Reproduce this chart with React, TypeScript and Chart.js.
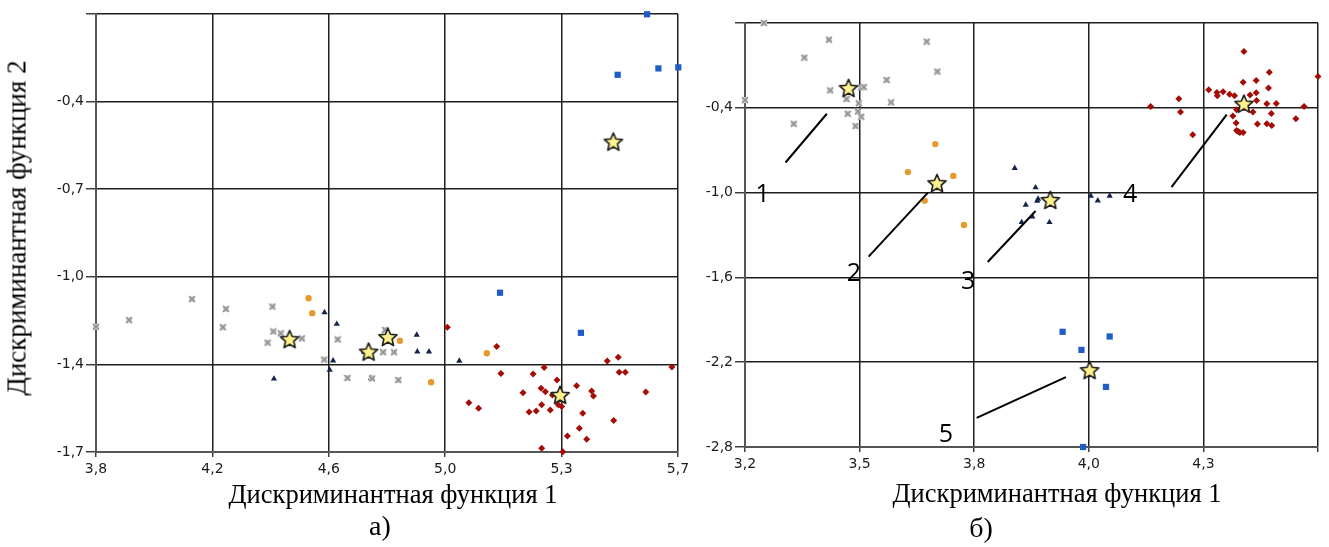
import React, { useEffect, useRef } from 'react';
import { Chart, registerables } from 'chart.js';

Chart.register(...registerables);

type P = [number, number];

// ---------- Chart а) ----------
const A_X_RANGE: P = [3.82, 5.72];
const A_Y_RANGE: P = [-1.70, -0.05];
const A_X_TICKS = ['3,8', '4,2', '4,6', '5,0', '5,3', '5,7'];
const A_Y_TICKS = ['-1,7', '-1,4', '-1,0', '-0,7', '-0,4', ''];

const A_GROUP1: P[] = [
  [3.82, -1.228], [3.928, -1.203], [4.133, -1.124], [4.244, -1.161], [4.234, -1.230],
  [4.396, -1.152], [4.399, -1.246], [4.423, -1.253], [4.380, -1.288], [4.492, -1.272],
  [4.609, -1.276], [4.565, -1.352], [4.641, -1.421], [4.721, -1.423], [4.757, -1.324],
  [4.793, -1.324], [4.807, -1.429], [4.764, -1.240],
];
const A_GROUP2: P[] = [
  [4.514, -1.121], [4.526, -1.177], [4.812, -1.281], [4.914, -1.437], [5.096, -1.328],
];
const A_GROUP3: P[] = [
  [4.566, -1.174], [4.606, -1.218], [4.594, -1.356], [4.583, -1.391], [4.401, -1.424],
  [4.867, -1.259], [4.869, -1.322], [4.907, -1.322], [5.006, -1.357], [4.718, -1.422],
  [4.695, -1.323],
];
const A_GROUP4: P[] = [
  [4.967, -1.230], [5.128, -1.303], [5.142, -1.404], [5.037, -1.514], [5.069, -1.535],
  [5.247, -1.406], [5.283, -1.382], [5.214, -1.477], [5.273, -1.460], [5.287, -1.473],
  [5.310, -1.485], [5.325, -1.429], [5.275, -1.522], [5.234, -1.549], [5.257, -1.546],
  [5.303, -1.542], [5.329, -1.522], [5.340, -1.529], [5.389, -1.450], [5.438, -1.470],
  [5.444, -1.489], [5.409, -1.554], [5.398, -1.611], [5.359, -1.640], [5.422, -1.652],
  [5.510, -1.581], [5.615, -1.474], [5.489, -1.357], [5.525, -1.343], [5.528, -1.400],
  [5.548, -1.400], [5.700, -1.380], [5.275, -1.686], [5.344, -1.699],
];
const A_GROUP5: P[] = [
  [5.619, -0.051], [5.523, -0.279], [5.656, -0.255], [5.721, -0.251], [5.139, -1.100],
  [5.403, -1.251],
];
const A_CENTROIDS: P[] = [
  [4.452, -1.275], [4.710, -1.322], [4.773, -1.267], [5.335, -1.485], [5.509, -0.531],
];

// ---------- Chart б) ----------
const B_X_RANGE: P = [3.2, 4.6];
const B_Y_RANGE: P = [-2.8, 0.2];
const B_X_TICKS = ['3,2', '3,5', '3,8', '4,0', '4,3', ''];
const B_Y_TICKS = ['-2,8', '-2,2', '-1,6', '-1,0', '-0,4', ''];

const B_GROUP1: P[] = [
  [3.246, 0.20], [3.405, 0.082], [3.345, -0.045], [3.408, -0.277], [3.448, -0.338],
  [3.451, -0.442], [3.478, -0.368], [3.476, -0.426], [3.484, -0.463], [3.470, -0.529],
  [3.484, -0.256], [3.490, -0.253], [3.546, -0.203], [3.557, -0.362], [3.644, 0.068],
  [3.670, -0.144], [3.319, -0.513], [3.200, -0.346],
];
const B_GROUP2: P[] = [
  [3.665, -0.657], [3.598, -0.855], [3.709, -0.882], [3.639, -1.057], [3.735, -1.229],
];
const B_GROUP3: P[] = [
  [3.859, -0.827], [3.910, -0.964], [3.916, -1.045], [3.914, -1.059], [3.886, -1.087],
  [3.902, -1.170], [3.876, -1.210], [3.944, -1.210], [4.045, -1.023], [4.062, -1.057],
  [4.091, -1.023],
];
const B_GROUP4: P[] = [
  [4.419, -0.001], [4.481, -0.149], [4.600, -0.178], [4.417, -0.220], [4.449, -0.206],
  [4.479, -0.260], [4.333, -0.272], [4.353, -0.291], [4.354, -0.315], [4.368, -0.286],
  [4.384, -0.305], [4.396, -0.315], [4.434, -0.310], [4.449, -0.293], [4.450, -0.348],
  [4.475, -0.371], [4.498, -0.369], [4.566, -0.390], [4.260, -0.336], [4.191, -0.390],
  [4.264, -0.430], [4.294, -0.591], [4.401, -0.414], [4.441, -0.430], [4.486, -0.440],
  [4.392, -0.458], [4.400, -0.508], [4.546, -0.478], [4.452, -0.515], [4.475, -0.513],
  [4.487, -0.525], [4.401, -0.560], [4.409, -0.575], [4.417, -0.575], [4.405, -0.568],
];
const B_GROUP5: P[] = [
  [3.976, -1.985], [4.022, -2.113], [4.091, -2.018], [4.082, -2.375], [4.026, -2.800],
];
const B_CENTROIDS: P[] = [
  [3.453, -0.260], [3.669, -0.933], [3.946, -1.052], [4.419, -0.371], [4.042, -2.256],
];

const B_NOTE_TEXT = ['1', '2', '3', '4', '5'];
const B_NOTE_AT: P[] = [
  [3.243, -1.005], [3.466, -1.565], [3.745, -1.619], [4.141, -1.005], [3.691, -2.701],
];
const B_NOTE_LINES: [P, P][] = [
  [[3.299, -0.787], [3.400, -0.442]],
  [[3.502, -1.453], [3.647, -1.000]],
  [[3.793, -1.491], [3.910, -1.130]],
  [[4.242, -0.962], [4.377, -0.449]],
  [[3.766, -2.594], [3.984, -2.306]],
];

// ---------- helpers ----------
function makeGrayMark(): HTMLCanvasElement {
  const c = document.createElement('canvas');
  c.width = 8;
  c.height = 8;
  const ctx = c.getContext('2d')!;
  ctx.fillStyle = '#d4d4d4';
  ctx.fillRect(1, 1, 6, 6);
  ctx.strokeStyle = '#8e8e8e';
  ctx.lineWidth = 1.6;
  ctx.beginPath();
  ctx.moveTo(1, 1);
  ctx.lineTo(7, 7);
  ctx.moveTo(7, 1);
  ctx.lineTo(1, 7);
  ctx.stroke();
  return c;
}

const GROUP_STYLES: any[] = [
  { pointStyle: 'gray', color: '#9b9b9b', radius: 4, borderWidth: 0 },
  { pointStyle: 'circle', color: '#E59A2B', radius: 3.2, borderWidth: 0 },
  { pointStyle: 'triangle', color: '#14244a', radius: 3.6, borderWidth: 0 },
  { pointStyle: 'rectRot', color: '#A60C06', radius: 3.5, borderWidth: 0 },
  { pointStyle: 'rect', color: '#1F5DC6', radius: 4.4, borderWidth: 0 },
];

function makeStar(size: number): HTMLCanvasElement {
  const c = document.createElement('canvas');
  c.width = size;
  c.height = size;
  const ctx = c.getContext('2d')!;
  const cx = size / 2;
  const cy = size / 2 + 0.8;
  const R = size / 2 - 1.5;
  const r = R * 0.46;
  ctx.beginPath();
  for (let i = 0; i < 10; i++) {
    const ang = -Math.PI / 2 + (i * Math.PI) / 5;
    const rad = i % 2 === 0 ? R : r;
    const x = cx + Math.cos(ang) * rad;
    const y = cy + Math.sin(ang) * rad;
    if (i === 0) ctx.moveTo(x, y);
    else ctx.lineTo(x, y);
  }
  ctx.closePath();
  ctx.fillStyle = '#FFF28C';
  ctx.fill();
  ctx.lineJoin = 'round';
  ctx.lineWidth = 1.6;
  ctx.strokeStyle = '#1a1a1a';
  ctx.stroke();
  return c;
}

function axis(range: P, labels: string[], isX: boolean, fixedSize: number, tickLen: number, pad: number) {
  const [min, max] = range;
  const step = (max - min) / (labels.length - 1);
  return {
    type: 'linear',
    min,
    max,
    afterBuildTicks: (s: any) => {
      s.ticks = labels.map((_, i) => ({ value: min + i * step }));
    },
    afterFit: (s: any) => {
      if (isX) s.height = fixedSize;
      else s.width = fixedSize;
    },
    ticks: {
      autoSkip: false,
      maxRotation: 0,
      minRotation: 0,
      padding: pad,
      color: '#1b1b1b',
      font: { family: 'DejaVu Sans', size: 14 },
      callback: (_v: any, i: number) => labels[i],
    },
    grid: {
      color: '#1e1e1e',
      lineWidth: 1.5,
      drawTicks: true,
      tickLength: tickLen,
      tickColor: '#333',
      tickWidth: 1.4,
    },
    border: { display: true, color: '#555', width: 2 },
  };
}

function buildDatasets(groups: P[][], centroids: P[], star: HTMLCanvasElement, grayMark: HTMLCanvasElement) {
  const ds: any[] = [
    {
      label: 'centroids',
      data: centroids.map(([x, y]) => ({ x, y })),
      pointStyle: star,
      radius: 10,
      hoverRadius: 10,
      clip: false,
    },
  ];
  groups.forEach((g, i) => {
    const st = GROUP_STYLES[i];
    ds.push({
      label: 'group ' + (i + 1),
      data: g.map(([x, y]) => ({ x, y })),
      pointStyle: st.pointStyle === 'gray' ? grayMark : st.pointStyle,
      pointRadius: st.radius,
      pointHoverRadius: st.radius,
      backgroundColor: st.color,
      borderColor: st.color,
      borderWidth: st.borderWidth,
      clip: false,
    });
  });
  return ds;
}

const notesPlugin = {
  id: 'notes',
  afterDatasetsDraw(chart: any) {
    const opts = chart.options.plugins.notes;
    if (!opts || !opts.enabled) return;
    const { ctx, scales } = chart;
    const xs = scales.x;
    const ys = scales.y;
    ctx.save();
    ctx.strokeStyle = '#000';
    ctx.lineWidth = 2;
    B_NOTE_LINES.forEach(([a, b]) => {
      ctx.beginPath();
      ctx.moveTo(xs.getPixelForValue(a[0]), ys.getPixelForValue(a[1]));
      ctx.lineTo(xs.getPixelForValue(b[0]), ys.getPixelForValue(b[1]));
      ctx.stroke();
    });
    ctx.fillStyle = '#000';
    ctx.font = '25px "Open Sans"';
    ctx.textAlign = 'center';
    ctx.textBaseline = 'alphabetic';
    B_NOTE_TEXT.forEach((t, i) => {
      const [x, y] = B_NOTE_AT[i];
      ctx.fillText(t, xs.getPixelForValue(x), ys.getPixelForValue(y) + 9);
    });
    ctx.restore();
  },
};

function ScatterPanel(props: {
  left: number;
  width: number;
  groups: P[][];
  centroids: P[];
  xRange: P;
  yRange: P;
  xTicks: string[];
  yTicks: string[];
  yWidth: number;
  xHeight: number;
  padTop: number;
  padRight: number;
  notes: boolean;
}) {
  const ref = useRef<HTMLCanvasElement | null>(null);
  useEffect(() => {
    if (!ref.current) return;
    const star = makeStar(22);
    const grayMark = makeGrayMark();
    const chart = new Chart(ref.current, {
      type: 'scatter',
      data: { datasets: buildDatasets(props.groups, props.centroids, star, grayMark) },
      options: {
        responsive: false,
        animation: false,
        layout: { padding: { left: 0, right: props.padRight, top: props.padTop, bottom: 0 } },
        plugins: {
          legend: { display: false },
          tooltip: { enabled: false },
          notes: { enabled: props.notes },
        } as any,
        scales: {
          x: axis(props.xRange, props.xTicks, true, props.xHeight, 5, 4) as any,
          y: axis(props.yRange, props.yTicks, false, props.yWidth, 10, 2) as any,
        },
      },
      plugins: [notesPlugin],
    });
    return () => chart.destroy();
  }, []);
  return (
    <canvas
      ref={ref}
      width={props.width}
      height={547}
      style={{ position: 'absolute', left: props.left, top: 0, width: props.width, height: 547 }}
    />
  );
}

const SERIF = '"Liberation Serif", "Times New Roman", serif';

function Label(props: { text: string; cx: number; baseline: number; size: number; rotate?: boolean }) {
  const s = props.size;
  if (props.rotate) {
    return (
      <div
        style={{
          position: 'absolute',
          left: props.baseline - 0.3375 * s,
          top: props.cx,
          transform: 'translate(-50%, -50%) rotate(-90deg)',
          fontFamily: SERIF,
          fontSize: s,
          lineHeight: s + 'px',
          whiteSpace: 'nowrap',
          color: '#000',
        }}
      >
        {props.text}
      </div>
    );
  }
  return (
    <div
      style={{
        position: 'absolute',
        left: props.cx,
        top: props.baseline - 0.3375 * s,
        transform: 'translate(-50%, -50%)',
        fontFamily: SERIF,
        fontSize: s,
        lineHeight: s + 'px',
        whiteSpace: 'nowrap',
        color: '#000',
      }}
    >
      {props.text}
    </div>
  );
}

export default function App() {
  return (
    <div
      style={{
        position: 'fixed',
        left: 0,
        top: 0,
        width: 1329,
        height: 547,
        background: '#fff',
        overflow: 'hidden',
      }}
    >
      <ScatterPanel
        left={0}
        width={700}
        groups={[A_GROUP1, A_GROUP2, A_GROUP3, A_GROUP4, A_GROUP5]}
        centroids={A_CENTROIDS}
        xRange={A_X_RANGE}
        yRange={A_Y_RANGE}
        xTicks={A_X_TICKS}
        yTicks={A_Y_TICKS}
        yWidth={96}
        xHeight={95}
        padTop={14}
        padRight={22}
        notes={false}
      />
      <ScatterPanel
        left={690}
        width={639}
        groups={[B_GROUP1, B_GROUP2, B_GROUP3, B_GROUP4, B_GROUP5]}
        centroids={B_CENTROIDS}
        xRange={B_X_RANGE}
        yRange={B_Y_RANGE}
        xTicks={B_X_TICKS}
        yTicks={B_Y_TICKS}
        yWidth={55}
        xHeight={100}
        padTop={23}
        padRight={4}
        notes={true}
      />
      <Label text="Дискриминантная функция 2" cx={228} baseline={26} size={27} rotate />
      <Label text="Дискриминантная функция 1" cx={393} baseline={503} size={26.5} />
      <Label text="Дискриминантная функция 1" cx={1057} baseline={502} size={26.5} />
      <Label text="а)" cx={380} baseline={535} size={28} />
      <Label text="б)" cx={981} baseline={537} size={28} />
    </div>
  );
}
